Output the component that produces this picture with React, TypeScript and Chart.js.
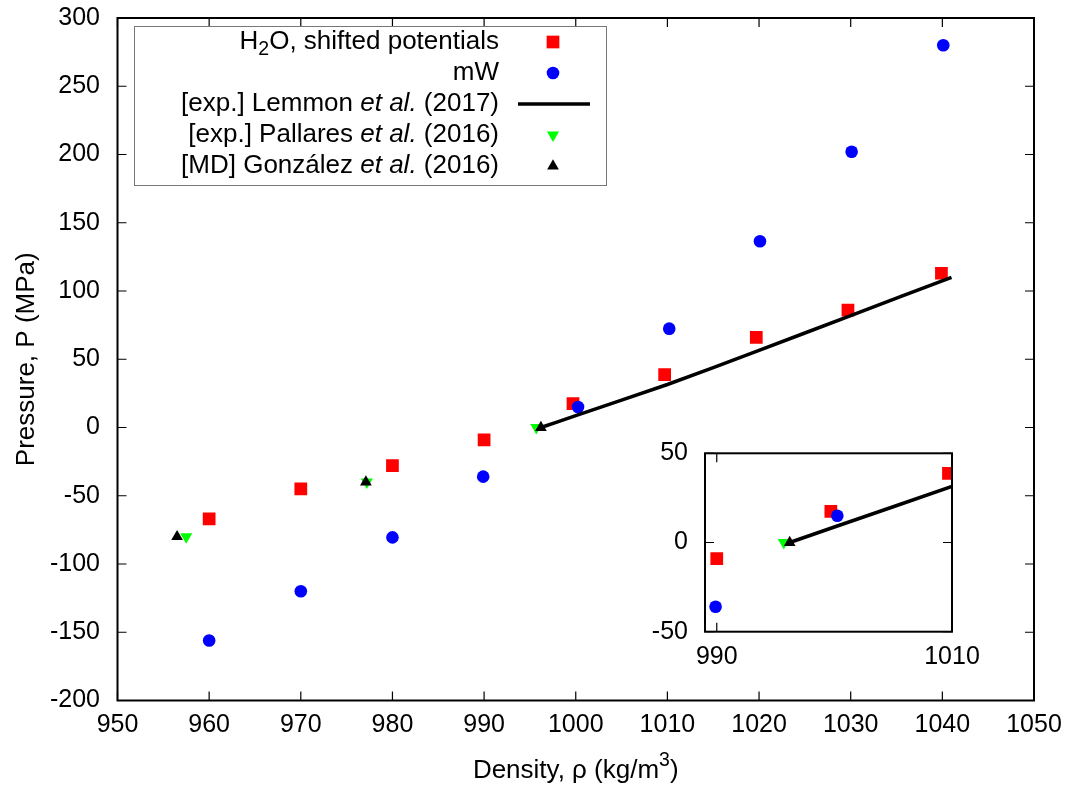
import React, { useEffect, useRef } from 'react';
import { Chart, registerables } from 'chart.js';

Chart.register(...registerables);

// ---------------- data ----------------
const h2oDensity = [960, 970, 980, 990, 999.7, 1009.7, 1019.7, 1029.7, 1039.9];
const h2oPressure = [-67, -45, -28, -9, 17.5, 38.7, 66, 86, 113];

const mwDensity = [960, 970, 980, 989.9, 1000.25, 1010.2, 1020.1, 1030.1, 1040.1];
const mwPressure = [-156, -120, -80.5, -36, 15, 72.4, 136.5, 202, 280];

const lemmonDensity = [996.2, 1000, 1010, 1020, 1030, 1041];
const lemmonPressure = [0, 8.7, 31.5, 56.5, 82, 110];

const pallaresDensity = [957.5, 977.2, 995.7];
const pallaresPressure = [-80, -40, 0];

const gonzalezDensity = [956.5, 977.1, 996.2];
const gonzalezPressure = [-80, -40, 0];

const insetXTicks = [990, 1010];
const insetYTicks = [-50, 0, 50];

type Seg = { t: string; it?: boolean; sub?: boolean; sup?: boolean };

const legendLabels: Seg[][] = [
  [{ t: 'H' }, { t: '2', sub: true }, { t: 'O, shifted potentials' }],
  [{ t: 'mW' }],
  [{ t: '[exp.] Lemmon ' }, { t: 'et al.', it: true }, { t: ' (2017)' }],
  [{ t: '[exp.] Pallares ' }, { t: 'et al.', it: true }, { t: ' (2016)' }],
  [{ t: '[MD] González ' }, { t: 'et al.', it: true }, { t: ' (2016)' }],
];
const xTitle: Seg[] = [{ t: 'Density, ρ (kg/m' }, { t: '3', sup: true }, { t: ')' }];
const yTitle: Seg[] = [{ t: 'Pressure, P (MPa)' }];

// ---------------- helpers ----------------
const FAMILY = "'Liberation Sans', Arial, Helvetica, sans-serif";
const TICK_SIZE = 25;
const TEXT_SIZE = 26;

const xy = (xs: number[], ys: number[]) => xs.map((x, i) => ({ x, y: ys[i] }));

function segFont(s: Seg, size: number) {
  const sz = s.sub || s.sup ? size * 0.75 : size;
  return `${s.it ? 'italic ' : ''}${sz}px ${FAMILY}`;
}
function measureRich(ctx: CanvasRenderingContext2D, segs: Seg[], size: number) {
  let w = 0;
  for (const s of segs) {
    ctx.font = segFont(s, size);
    w += ctx.measureText(s.t).width;
  }
  return w;
}
function drawRich(
  ctx: CanvasRenderingContext2D,
  segs: Seg[],
  x: number,
  y: number,
  size: number,
  align: 'left' | 'right' | 'center'
) {
  const w = measureRich(ctx, segs, size);
  let cx = align === 'right' ? x - w : align === 'center' ? x - w / 2 : x;
  ctx.textAlign = 'left';
  ctx.textBaseline = 'middle';
  ctx.fillStyle = '#000';
  for (const s of segs) {
    ctx.font = segFont(s, size);
    const dy = s.sub ? size * 0.28 : s.sup ? -size * 0.38 : 0;
    ctx.fillText(s.t, cx, y + dy);
    cx += ctx.measureText(s.t).width;
  }
}

function drawSymbol(ctx: CanvasRenderingContext2D, ds: any, cx: number, cy: number, x0: number, x1: number) {
  ctx.save();
  if (ds.showLine) {
    ctx.strokeStyle = ds.borderColor;
    ctx.lineWidth = ds.borderWidth;
    ctx.beginPath();
    ctx.moveTo(x0, cy);
    ctx.lineTo(x1, cy);
    ctx.stroke();
  } else {
    ctx.fillStyle = ds.backgroundColor;
    const r = ds.pointRadius;
    ctx.beginPath();
    if (ds.pointStyle === 'rect') {
      const s = Math.SQRT1_2 * r;
      ctx.rect(cx - s, cy - s, 2 * s, 2 * s);
    } else if (ds.pointStyle === 'circle') {
      ctx.arc(cx, cy, r, 0, Math.PI * 2);
    } else if (ds.pointStyle === 'triangle') {
      let rad = ((ds.pointRotation || 0) * Math.PI) / 180;
      for (let k = 0; k < 3; k++) {
        const px = cx + Math.sin(rad) * r;
        const py = cy - Math.cos(rad) * r;
        if (k === 0) ctx.moveTo(px, py);
        else ctx.lineTo(px, py);
        rad += (2 * Math.PI) / 3;
      }
      ctx.closePath();
    }
    ctx.fill();
  }
  ctx.restore();
}

function makeDatasets() {
  return [
    {
      label: 'H2O, shifted potentials',
      data: xy(h2oDensity, h2oPressure),
      pointStyle: 'rect',
      pointRadius: 9,
      backgroundColor: '#ff0000',
      borderColor: '#ff0000',
      pointBorderWidth: 0,
      order: 4,
    },
    {
      label: 'mW',
      data: xy(mwDensity, mwPressure),
      pointStyle: 'circle',
      pointRadius: 6.3,
      backgroundColor: '#0000ff',
      borderColor: '#0000ff',
      pointBorderWidth: 0,
      order: 3,
    },
    {
      label: '[exp.] Lemmon et al. (2017)',
      data: xy(lemmonDensity, lemmonPressure),
      showLine: true,
      borderColor: '#000000',
      backgroundColor: '#000000',
      borderWidth: 3.5,
      pointRadius: 0,
      tension: 0.2,
      order: 2,
    },
    {
      label: '[exp.] Pallares et al. (2016)',
      data: xy(pallaresDensity, pallaresPressure),
      pointStyle: 'triangle',
      pointRotation: 180,
      pointRadius: 7,
      backgroundColor: '#00ff00',
      borderColor: '#00ff00',
      pointBorderWidth: 0,
      order: 1,
    },
    {
      label: '[MD] González et al. (2016)',
      data: xy(gonzalezDensity, gonzalezPressure),
      pointStyle: 'triangle',
      pointRadius: 6.75,
      backgroundColor: '#000000',
      borderColor: '#000000',
      pointBorderWidth: 0,
      order: 0,
    },
  ];
}

function framePlugin(id: string, tickLen: number) {
  return {
    id,
    afterDatasetsDraw(chart: any) {
      const { ctx, chartArea: a, scales } = chart;
      ctx.save();
      ctx.strokeStyle = '#000';
      ctx.lineWidth = 1.2;
      ctx.beginPath();
      for (const t of scales.x.ticks) {
        const px = scales.x.getPixelForValue(t.value);
        ctx.moveTo(px, a.bottom);
        ctx.lineTo(px, a.bottom - tickLen);
        ctx.moveTo(px, a.top);
        ctx.lineTo(px, a.top + tickLen);
      }
      for (const t of scales.y.ticks) {
        const py = scales.y.getPixelForValue(t.value);
        ctx.moveTo(a.left, py);
        ctx.lineTo(a.left + tickLen, py);
        ctx.moveTo(a.right, py);
        ctx.lineTo(a.right - tickLen, py);
      }
      ctx.stroke();
      ctx.lineWidth = 2;
      ctx.strokeRect(a.left, a.top, a.right - a.left, a.bottom - a.top);
      ctx.restore();
    },
  };
}

const mainDecor = {
  id: 'mainDecor',
  afterDraw(chart: any) {
    const { ctx, chartArea: a } = chart;
    ctx.save();
    // axis titles
    drawRich(ctx, xTitle, (a.left + a.right) / 2, 771, TEXT_SIZE, 'center');
    ctx.save();
    ctx.translate(27, (a.top + a.bottom) / 2);
    ctx.rotate(-Math.PI / 2);
    drawRich(ctx, yTitle, 0, 0, TEXT_SIZE, 'center');
    ctx.restore();
    // legend
    const bx0 = a.left + 16.5;
    const by0 = a.top + 8;
    const bx1 = 606;
    const by1 = 185;
    ctx.fillStyle = '#fff';
    ctx.fillRect(bx0, by0, bx1 - bx0, by1 - by0);
    ctx.strokeStyle = '#777';
    ctx.lineWidth = 1;
    ctx.strokeRect(bx0 + 0.5, by0 + 0.5, bx1 - bx0, by1 - by0);
    const dsets = chart.data.datasets;
    legendLabels.forEach((segs, i) => {
      const cy = 42 + i * 31;
      drawRich(ctx, segs, 499, cy, TEXT_SIZE, 'right');
      drawSymbol(ctx, dsets[i], 553, cy, 518, 590);
    });
    ctx.restore();
  },
};

const tickFont = { family: FAMILY, size: TICK_SIZE };

const noPadX = (h: number) => (s: any) => {
  s.height = h;
  s.paddingLeft = 0;
  s.paddingRight = 0;
  s.paddingTop = 0;
  s.paddingBottom = 0;
};
const noPadY = (w: number) => (s: any) => {
  s.width = w;
  s.paddingLeft = 0;
  s.paddingRight = 0;
  s.paddingTop = 0;
  s.paddingBottom = 0;
};

export default function App() {
  const mainRef = useRef<HTMLCanvasElement>(null);
  const insetRef = useRef<HTMLCanvasElement>(null);

  useEffect(() => {
    const main = new Chart(mainRef.current as HTMLCanvasElement, {
      type: 'scatter',
      data: { datasets: makeDatasets() as any },
      options: {
        animation: false,
        responsive: false,
        maintainAspectRatio: false,
        layout: { padding: { top: 18, right: 43, left: 0, bottom: 0 } },
        plugins: { legend: { display: false }, tooltip: { enabled: false } },
        scales: {
          x: {
            type: 'linear',
            min: 950,
            max: 1050,
            ticks: {
              stepSize: 10,
              font: tickFont,
              color: '#000',
              padding: 10,
              maxRotation: 0,
              autoSkip: false,
              callback: (v: any) => String(v),
            },
            grid: { display: false, drawTicks: false },
            border: { display: false },
            afterFit: noPadX(87.5),
          },
          y: {
            type: 'linear',
            min: -200,
            max: 300,
            ticks: {
              stepSize: 50,
              font: tickFont,
              color: '#000',
              padding: 17.5,
              autoSkip: false,
              callback: (v: any) => String(v),
            },
            grid: { display: false, drawTicks: false },
            border: { display: false },
            afterFit: noPadY(117.5),
          },
        },
      } as any,
      plugins: [framePlugin('mainFrame', 9), mainDecor],
    });

    const inset = new Chart(insetRef.current as HTMLCanvasElement, {
      type: 'scatter',
      data: { datasets: makeDatasets() as any },
      options: {
        animation: false,
        responsive: false,
        maintainAspectRatio: false,
        layout: { padding: { top: 23.3, right: 48, left: 0, bottom: 0 } },
        plugins: { legend: { display: false }, tooltip: { enabled: false } },
        scales: {
          x: {
            type: 'linear',
            min: 989,
            max: 1010,
            afterBuildTicks: (s: any) => {
              s.ticks = insetXTicks.map((v) => ({ value: v }));
            },
            ticks: {
              font: tickFont,
              color: '#000',
              padding: 10,
              maxRotation: 0,
              autoSkip: false,
              callback: (v: any) => String(v),
            },
            grid: { display: false, drawTicks: false },
            border: { display: false },
            afterFit: noPadX(58.3),
          },
          y: {
            type: 'linear',
            min: -50,
            max: 50,
            afterBuildTicks: (s: any) => {
              s.ticks = insetYTicks.map((v) => ({ value: v }));
            },
            ticks: {
              font: tickFont,
              color: '#000',
              padding: 17,
              autoSkip: false,
              callback: (v: any) => String(v),
            },
            grid: { display: false, drawTicks: false },
            border: { display: false },
            afterFit: noPadY(65),
          },
        },
      } as any,
      plugins: [framePlugin('insetFrame', 9)],
    });

    return () => {
      main.destroy();
      inset.destroy();
    };
  }, []);

  return (
    <div
      style={{
        position: 'fixed',
        left: 0,
        top: 0,
        width: 1077,
        height: 788,
        background: '#fff',
        overflow: 'hidden',
      }}
    >
      <canvas
        ref={mainRef}
        width={1077}
        height={788}
        style={{ position: 'absolute', left: 0, top: 0, width: 1077, height: 788 }}
      />
      <canvas
        ref={insetRef}
        width={360}
        height={260}
        style={{ position: 'absolute', left: 640, top: 430, width: 360, height: 260 }}
      />
    </div>
  );
}
